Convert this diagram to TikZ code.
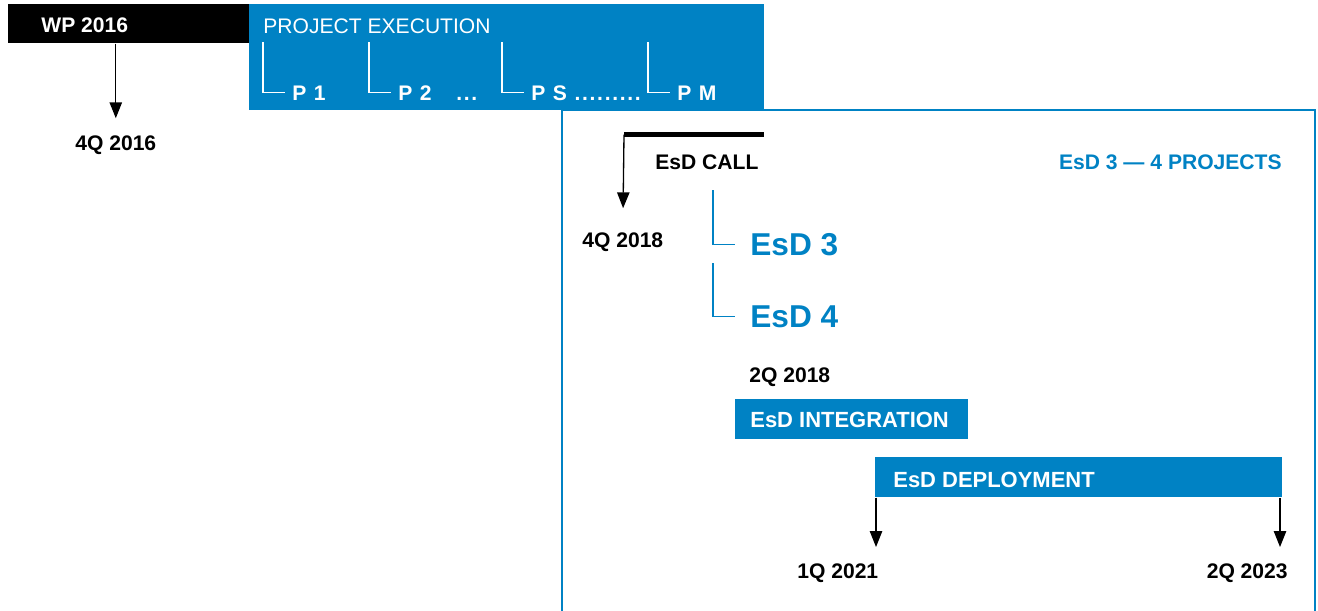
\documentclass[tikz,border=0pt]{standalone}
\usepackage{fontspec}
\setmainfont{Liberation Sans}
\newfontfamily\spacedfont[LetterSpace=8]{Liberation Sans}
\usetikzlibrary{arrows.meta}
\definecolor{esdblue}{HTML}{0082C4}
\newcommand{\pdots}{.........}

\tikzset{
  boxblack/.style={fill=black, inner sep=0pt, anchor=north west},
  boxblue/.style={fill=esdblue, inner sep=0pt, anchor=north west},
  whitetxt/.style={text=white, font=\bfseries\fontsize{12}{14}\selectfont, inner sep=0pt, anchor=base west},
  datetxt/.style={font=\bfseries\fontsize{12}{14}\selectfont, inner sep=0pt, anchor=base west},
  esdtxt/.style={text=esdblue, font=\bfseries\fontsize{18}{21}\selectfont, inner sep=0pt, anchor=base west},
  arr/.style={-{Triangle[length=9pt,width=7pt]}, line width=0.75pt},
  frameline/.style={esdblue, line width=1.2pt},
  bracket/.style={white, line width=0.6pt},
  bluebracket/.style={esdblue, line width=0.6pt}
}

\begin{document}
\begin{tikzpicture}[x=0.02cm, y=-0.02cm]
\useasboundingbox (0,0) rectangle (1318,610);
% frame round the EsD part
\draw[frameline] (562,615) -- (562,110) -- (1315,110) -- (1315,615);

% top bar
\node[boxblack, minimum width=4.82cm, minimum height=0.78cm] (wpbox) at (8,4) {};
\node[boxblue, minimum width=10.30cm, minimum height=2.12cm] (pebox) at (249,4) {};
\node[whitetxt] (wp) at (41,32) {WP 2016};
\node[whitetxt, font=\fontsize{12}{14}\selectfont] (pe) at (263,33) {PROJECT EXECUTION};
\foreach \x/\name/\lab in {263/p1/{P 1}, 369/p2/{P 2}, 502/ps/{P S \pdots}, 648/pm/{P M}} {
  \node[whitetxt, font=\spacedfont\bfseries\fontsize{12}{14}\selectfont] (\name) at (\x+29,100) {\lab};
  \coordinate (\name top) at (\x,42);
  \draw[bracket] (\name top) |- ([xshift=-4pt]\name.west);
}
\node[whitetxt, font=\spacedfont\bfseries\fontsize{12}{14}\selectfont] (p2dots) at (456,100) {...};

\node[datetxt] (q16) at (75,150) {4Q 2016};
\draw[arr, shorten >=9.5pt] (q16.north |- wpbox.south) -- (q16.north);

% EsD call
\coordinate (callstart) at (624,134.5);
\coordinate (callend) at (764,134.5);
\draw[line width=2.8pt] (callstart) -- (callend);
\node[datetxt] (call) at (655,169) {EsD CALL};
\node[datetxt, text=esdblue, anchor=base east] (proj) at (1282,169) {EsD 3 — 4 PROJECTS};
\node[datetxt] (q18) at (582,247) {4Q 2018};
\draw[arr, shorten >=13.5pt] (callstart) -- (q18.north);

\node[esdtxt] (esd3) at (750,255) {EsD 3};
\node[esdtxt] (esd4) at (750,327) {EsD 4};
\coordinate (esd3top) at (713,190);
\coordinate (esd4top) at (713,263);
\draw[bluebracket] (esd3top) |- ([xshift=-8.5pt]esd3.west);
\draw[bluebracket] (esd4top) |- ([xshift=-8.5pt]esd4.west);

% integration and deployment
\node[datetxt] (q18b) at (749,382) {2Q 2018};
\node[boxblue, minimum width=4.66cm, minimum height=0.80cm] (intbox) at (735,399) {};
\node[whitetxt, font=\bfseries\fontsize{12.5}{14}\selectfont] (int) at (750,427) {EsD INTEGRATION};
\node[boxblue, minimum width=8.14cm, minimum height=0.80cm] (depbox) at (875,457) {};
\node[whitetxt, font=\bfseries\fontsize{12.5}{14}\selectfont] (dep) at (893,487) {EsD DEPLOYMENT};

\coordinate (depstart) at (876,547);
\coordinate (depend) at (1280,547);
\draw[arr] (depbox.south -| depstart) -- (depstart);
\draw[arr] (depbox.south -| depend) -- (depend);
\node[datetxt] (q21) at (797,578) {1Q 2021};
\node[datetxt, anchor=base east] (q23) at (1288,578) {2Q 2023};
\end{tikzpicture}
\end{document}
